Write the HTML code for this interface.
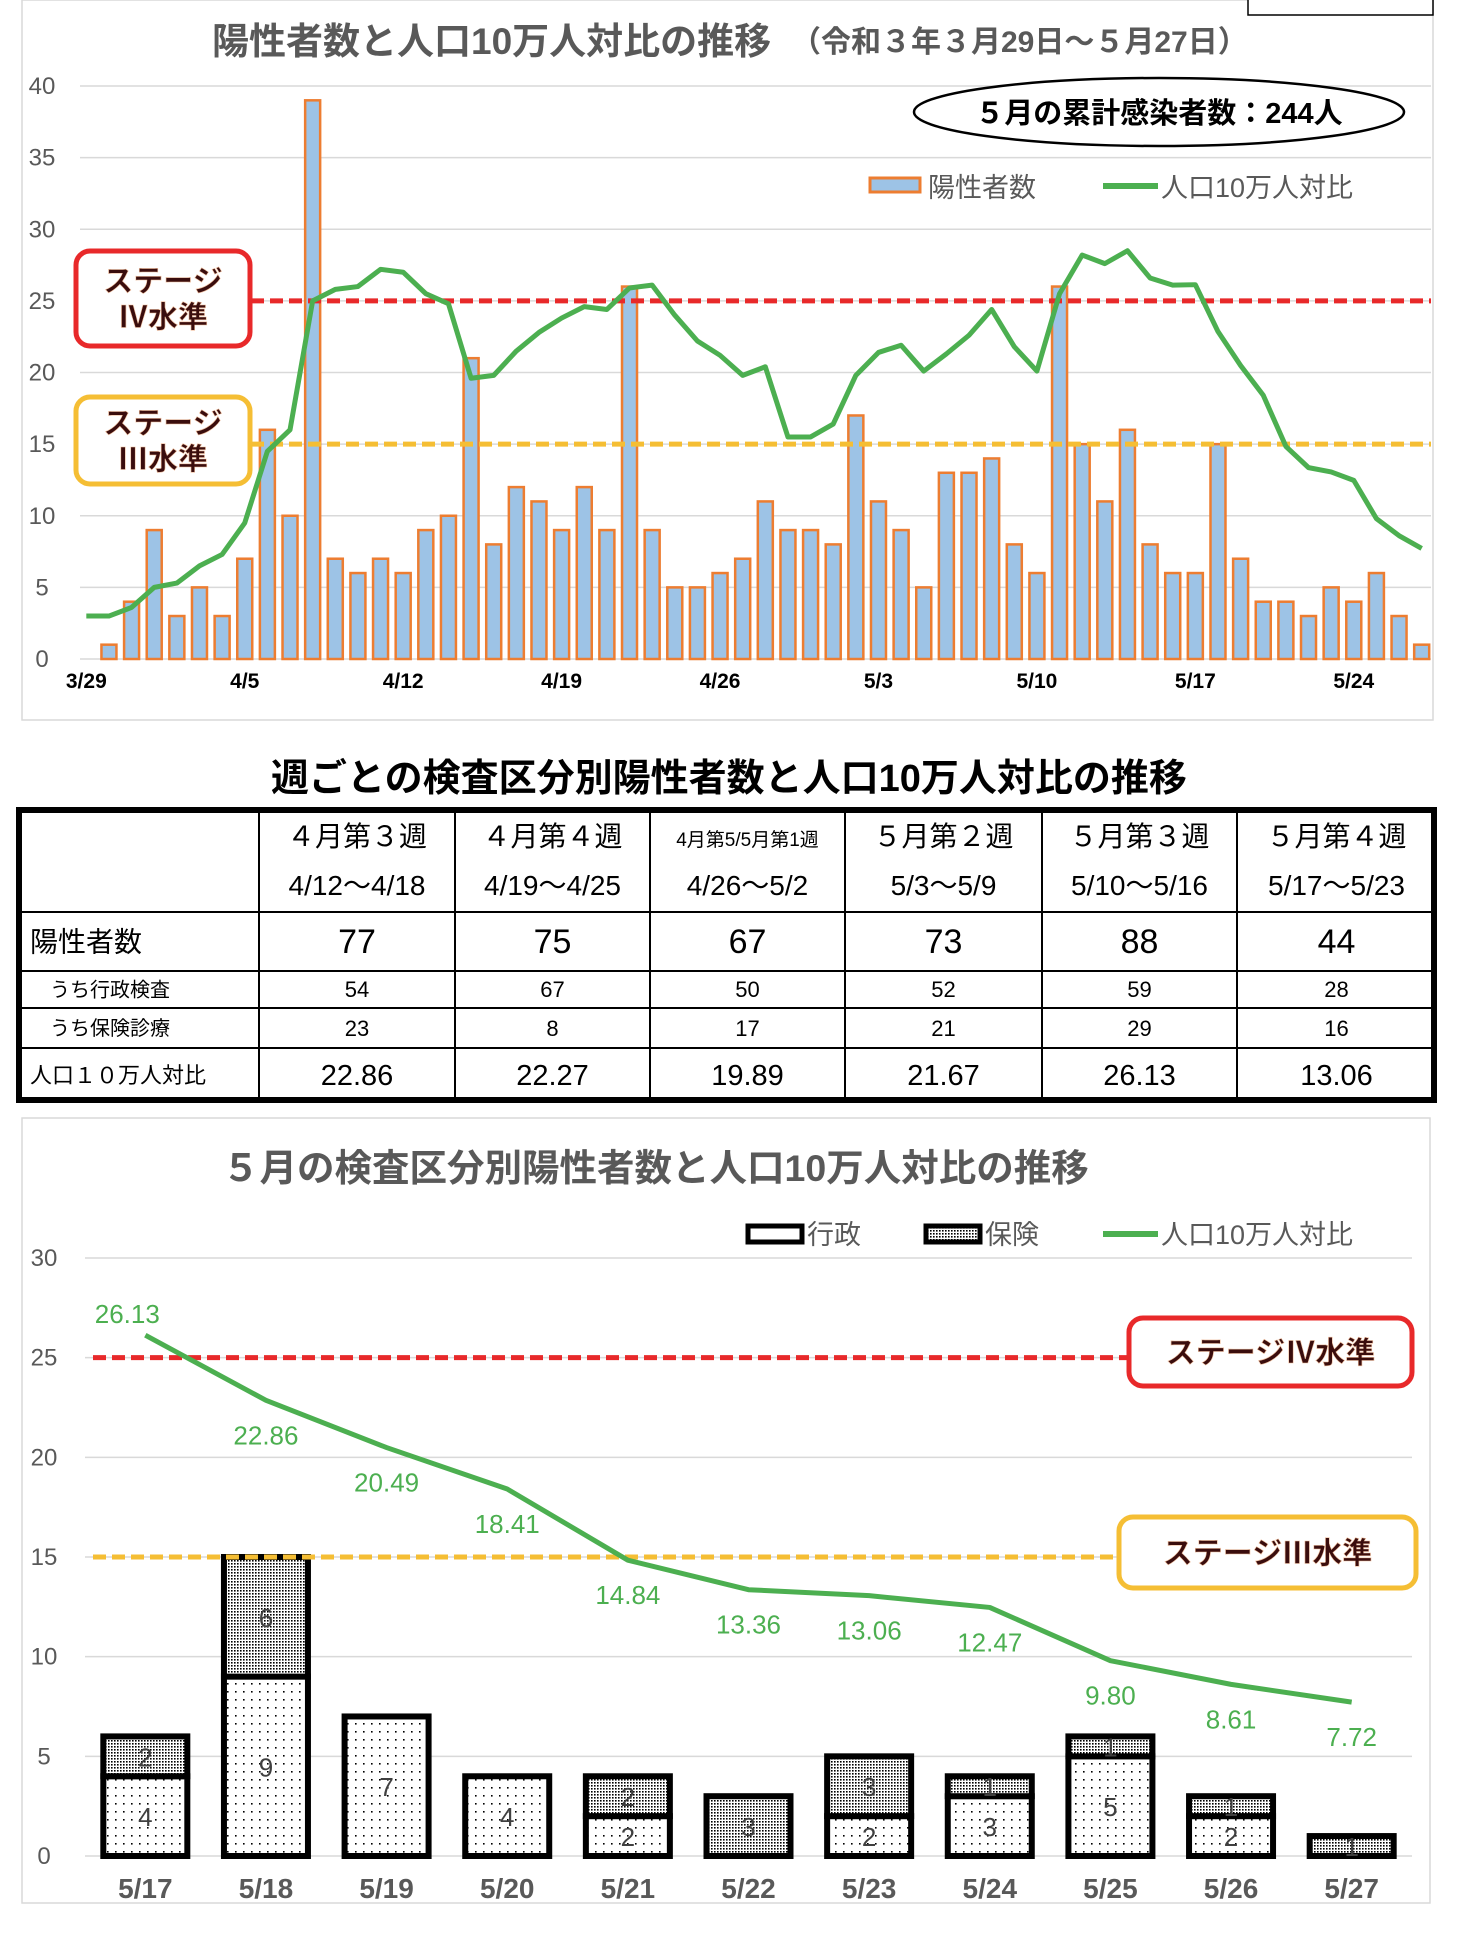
<!DOCTYPE html>
<html><head><meta charset="utf-8">
<style>
body{margin:0;background:#fff;width:1458px;height:1932px;overflow:hidden;font-family:"Liberation Sans","Noto Sans CJK JP",sans-serif;}
svg text{font-family:"Liberation Sans","Noto Sans CJK JP",sans-serif;}
</style></head>
<body>
<svg width="1458" height="1932" xmlns="http://www.w3.org/2000/svg">
<defs>
<pattern id="sparse" width="8" height="8" patternUnits="userSpaceOnUse"><rect width="8" height="8" fill="#fff"/><rect x="3" y="3" width="1.6" height="1.6" fill="#000"/></pattern>
<pattern id="dense" width="3" height="3" patternUnits="userSpaceOnUse"><rect width="3" height="3" fill="#fff"/><rect width="1.6" height="1.6" fill="#000"/></pattern>
</defs>
<g id="c1"></g>
<g id="tbl"></g>
<g id="c3"></g>
</svg>
<script>
const days=["3/29","3/30","3/31","4/1","4/2","4/3","4/4","4/5","4/6","4/7","4/8","4/9","4/10","4/11","4/12","4/13","4/14","4/15","4/16","4/17","4/18","4/19","4/20","4/21","4/22","4/23","4/24","4/25","4/26","4/27","4/28","4/29","4/30","5/1","5/2","5/3","5/4","5/5","5/6","5/7","5/8","5/9","5/10","5/11","5/12","5/13","5/14","5/15","5/16","5/17","5/18","5/19","5/20","5/21","5/22","5/23","5/24","5/25","5/26","5/27"];
const positives=[0,1,4,9,3,5,3,7,16,10,39,7,6,7,6,9,10,21,8,12,11,9,12,9,26,9,5,5,6,7,11,9,9,8,17,11,9,5,13,13,14,8,6,26,15,11,16,8,6,6,15,7,4,4,3,5,4,6,3,1];
const ratio=[3,3,3.6,5,5.3,6.5,7.3,9.5,14.5,16,25,25.8,26,27.2,27,25.5,24.8,19.6,19.8,21.5,22.8,23.8,24.6,24.4,25.9,26.1,24,22.2,21.2,19.8,20.4,15.5,15.5,16.4,19.8,21.4,21.9,20.1,21.3,22.6,24.4,21.8,20.1,25.5,28.2,27.6,28.5,26.6,26.1,26.13,22.86,20.49,18.41,14.84,13.36,13.06,12.47,9.80,8.61,7.72];
const xLabels1=["3/29","4/5","4/12","4/19","4/26","5/3","5/10","5/17","5/24"];
const yTicks1=[0,5,10,15,20,25,30,35,40];

const mayDays=["5/17","5/18","5/19","5/20","5/21","5/22","5/23","5/24","5/25","5/26","5/27"];
const gov=[4,9,7,4,2,0,2,3,5,2,0];
const ins=[2,6,0,0,2,3,3,1,1,1,1];
const mayRatio=[26.13,22.86,20.49,18.41,14.84,13.36,13.06,12.47,9.80,8.61,7.72];
const yTicks3=[0,5,10,15,20,25,30];

const weeks=["４月第３週","４月第４週","4月第5/5月第1週","５月第２週","５月第３週","５月第４週"];
const ranges=["4/12～4/18","4/19～4/25","4/26～5/2","5/3～5/9","5/10～5/16","5/17～5/23"];
const wkPos=[77,75,67,73,88,44];
const wkGov=[54,67,50,52,59,28];
const wkIns=[23,8,17,21,29,16];
const wkRatio=["22.86","22.27","19.89","21.67","26.13","13.06"];

const NS="http://www.w3.org/2000/svg";
function mk(p,tag,at,txt){const e=document.createElementNS(NS,tag);for(const k in at)e.setAttribute(k,at[k]);if(txt!==undefined)e.textContent=txt;p.appendChild(e);return e;}

// ---------- chart 1 ----------
const c1=document.getElementById('c1');
const X0=75,SL=(1433-75)/60;
const x1=i=>X0+SL*(i+0.5);
const y1=v=>659-v*(573/40);
let e=mk(c1,'rect',{x:22,y:0,width:1411,height:720,fill:'#fff',stroke:'#d9d9d9','stroke-width':1.5});

e=mk(c1,'rect',{x:1248,y:-2,width:185,height:17,fill:'#fff',stroke:'#000','stroke-width':1.5});

e=mk(c1,'text',{x:212,y:54,'font-size':37,'font-weight':'bold',fill:'#595959'},'陽性者数と人口10万人対比の推移');

e=mk(c1,'text',{x:791,y:52,'font-size':30,'font-weight':'bold',fill:'#595959'},'（令和３年３月29日～５月27日）');

yTicks1.forEach(v=>{
 const g=mk(c1,'line',{x1:80,x2:1431,y1:y1(v),y2:y1(v),stroke:'#d9d9d9','stroke-width':1.5});
 
 const t=mk(c1,'text',{x:42,y:y1(v)+8,'font-size':24,fill:'#595959','text-anchor':'middle'},String(v));
 
});
positives.forEach((v,i)=>{
 if(v<=0)return;
 const r=mk(c1,'rect',{x:x1(i)-7.5,y:y1(v),width:15,height:y1(0)-y1(v),fill:'#9dc3e6',stroke:'#ed7d31','stroke-width':2.5});
 
});
e=mk(c1,'line',{x1:251,x2:1431,y1:y1(25),y2:y1(25),stroke:'#e8292a','stroke-width':5,'stroke-dasharray':'13 6'});

e=mk(c1,'line',{x1:251,x2:1431,y1:y1(15),y2:y1(15),stroke:'#f5be34','stroke-width':5,'stroke-dasharray':'13 6'});

e=mk(c1,'polyline',{points:ratio.map((v,i)=>x1(i)+','+y1(v)).join(' '),fill:'none',stroke:'#4caf50','stroke-width':5,'stroke-linejoin':'round'});

xLabels1.forEach(l=>{
 const i=days.indexOf(l);
 const t=mk(c1,'text',{x:x1(i),y:688,'font-size':21,'font-weight':'bold',fill:'#000','text-anchor':'middle'},l);
 
});
function stageBox(p,x,y,w,h,col,lines,fs,name){
 const g=mk(p,'g',{});
 mk(g,'rect',{x:x,y:y,width:w,height:h,rx:14,fill:'#fff',stroke:col,'stroke-width':5});
 lines.forEach((l,k)=>{mk(g,'text',{x:x+w/2,y:y+h/2+(k-(lines.length-1)/2)*36+11,'font-size':fs,'font-weight':'bold',fill:'#3a0d0d','text-anchor':'middle',stroke:'#f0c0a0','stroke-width':0.6},l);});
}
stageBox(c1,76,251,174,95,'#e8292a',['ステージ','Ⅳ水準'],30,'stage4-box');
stageBox(c1,76,397,174,87,'#f5be34',['ステージ','Ⅲ水準'],30,'stage3-box');
e=mk(c1,'ellipse',{cx:1159,cy:112,rx:245,ry:34,fill:'#fff',stroke:'#000','stroke-width':2.5});

e=mk(c1,'text',{x:1159,y:123,'font-size':29,'font-weight':'bold',fill:'#000','text-anchor':'middle'},'５月の累計感染者数：244人');

e=mk(c1,'rect',{x:870,y:178,width:50,height:14,fill:'#9dc3e6',stroke:'#ed7d31','stroke-width':3});

e=mk(c1,'text',{x:928,y:197,'font-size':27,fill:'#595959'},'陽性者数');

e=mk(c1,'line',{x1:1103,x2:1158,y1:186,y2:186,stroke:'#4caf50','stroke-width':6});

e=mk(c1,'text',{x:1161,y:197,'font-size':27,fill:'#595959'},'人口10万人対比');


// ---------- table ----------
const tb=document.getElementById('tbl');
e=mk(tb,'text',{x:729,y:791,'font-size':38,'font-weight':'bold',fill:'#000','text-anchor':'middle'},'週ごとの検査区分別陽性者数と人口10万人対比の推移');

const cols=[17,259,455,650,845,1042,1237,1436];
const rows=[808,912,971,1008,1048,1102];
rows.slice(1,-1).forEach(r=>{const l=mk(tb,'line',{x1:17,x2:1436,y1:r,y2:r,stroke:'#000','stroke-width':2});});
cols.slice(1,-1).forEach(c=>{const l=mk(tb,'line',{x1:c,x2:c,y1:808,y2:1102,stroke:'#000','stroke-width':2});});
e=mk(tb,'rect',{x:19,y:810,width:1415,height:290,fill:'none',stroke:'#000','stroke-width':6});

const rowLabels=[['陽性者数',28,'start',30],['　うち行政検査',20,'start',30],['　うち保険診療',20,'start',30],['人口１０万人対比',22,'start',30]];
rowLabels.forEach((rl,k)=>{const t=mk(tb,'text',{x:rl[3],y:(rows[k+1]+rows[k+2])/2+rl[1]*0.36,'font-size':rl[1],fill:'#000'},rl[0]);});
weeks.forEach((w,i)=>{
 const cx=(cols[i+1]+cols[i+2])/2;
 let t=mk(tb,'text',{x:cx,y:846,'font-size':i==2?19:28,fill:'#000','text-anchor':'middle'},w);
 t=mk(tb,'text',{x:cx,y:895,'font-size':28,fill:'#000','text-anchor':'middle'},ranges[i]);
 t=mk(tb,'text',{x:cx,y:953,'font-size':34,fill:'#000','text-anchor':'middle'},String(wkPos[i]));
 t=mk(tb,'text',{x:cx,y:997,'font-size':22,fill:'#000','text-anchor':'middle'},String(wkGov[i]));
 t=mk(tb,'text',{x:cx,y:1036,'font-size':22,fill:'#000','text-anchor':'middle'},String(wkIns[i]));
 t=mk(tb,'text',{x:cx,y:1085,'font-size':29,fill:'#000','text-anchor':'middle'},wkRatio[i]);
});

// ---------- chart 3 ----------
const c3=document.getElementById('c3');
const X3=85,SL3=(1412-85)/11;
const x3=i=>X3+SL3*(i+0.5);
const y3=v=>1856-v*(598/30);
e=mk(c3,'rect',{x:22,y:1118,width:1408,height:785,fill:'#fff',stroke:'#d9d9d9','stroke-width':1.5});

e=mk(c3,'text',{x:222,y:1181,'font-size':37.5,'font-weight':'bold',fill:'#595959'},'５月の検査区分別陽性者数と人口10万人対比の推移');

yTicks3.forEach(v=>{
 const g=mk(c3,'line',{x1:85,x2:1412,y1:y3(v),y2:y3(v),stroke:'#d9d9d9','stroke-width':1.5});
 
 const t=mk(c3,'text',{x:44,y:y3(v)+8,'font-size':24,fill:'#595959','text-anchor':'middle'},String(v));
 
});
mayDays.forEach((d,i)=>{
 const bx=x3(i)-42;
 if(gov[i]>0){
  const r=mk(c3,'rect',{x:bx,y:y3(gov[i]),width:84,height:y3(0)-y3(gov[i]),fill:'url(#sparse)',stroke:'#000','stroke-width':6});
  
  const t=mk(c3,'text',{x:x3(i),y:(y3(0)+y3(gov[i]))/2+10,'font-size':26,fill:'#404040','text-anchor':'middle'},String(gov[i]));
  
 }
 if(ins[i]>0){
  const r=mk(c3,'rect',{x:bx,y:y3(gov[i]+ins[i]),width:84,height:y3(gov[i])-y3(gov[i]+ins[i]),fill:'url(#dense)',stroke:'#000','stroke-width':6});
  
  const t=mk(c3,'text',{x:x3(i),y:(y3(gov[i])+y3(gov[i]+ins[i]))/2+10,'font-size':26,fill:'#404040','text-anchor':'middle'},String(ins[i]));
  
 }
 const t=mk(c3,'text',{x:x3(i),y:1898,'font-size':28,'font-weight':'bold',fill:'#595959','text-anchor':'middle'},d);
 
});
e=mk(c3,'line',{x1:93,x2:1128,y1:y3(25),y2:y3(25),stroke:'#e8292a','stroke-width':5,'stroke-dasharray':'13 6'});

e=mk(c3,'line',{x1:93,x2:1118,y1:y3(15),y2:y3(15),stroke:'#f5be34','stroke-width':5,'stroke-dasharray':'13 6'});

e=mk(c3,'polyline',{points:mayRatio.map((v,i)=>x3(i)+','+y3(v)).join(' '),fill:'none',stroke:'#4caf50','stroke-width':5,'stroke-linejoin':'round'});

mayRatio.forEach((v,i)=>{
 const t=mk(c3,'text',{x:x3(i)-(i==0?18:0),y:i==0?y3(v)-12:y3(v)+44,'font-size':26,fill:'#4caf50','text-anchor':'middle'},v.toFixed(2));
 
});
stageBox(c3,1129,1318,283,68,'#e8292a',['ステージⅣ水準'],30,'stage4-box');
stageBox(c3,1119,1517,297,71,'#f5be34',['ステージⅢ水準'],30,'stage3-box');
e=mk(c3,'rect',{x:748,y:1226,width:54,height:16,fill:'#fff',stroke:'#000','stroke-width':5});

e=mk(c3,'text',{x:807,y:1244,'font-size':27,fill:'#595959'},'行政');

e=mk(c3,'rect',{x:926,y:1226,width:54,height:16,fill:'url(#dense)',stroke:'#000','stroke-width':5});

e=mk(c3,'text',{x:985,y:1244,'font-size':27,fill:'#595959'},'保険');

e=mk(c3,'line',{x1:1103,x2:1158,y1:1234,y2:1234,stroke:'#4caf50','stroke-width':6});

e=mk(c3,'text',{x:1161,y:1244,'font-size':27,fill:'#595959'},'人口10万人対比');

</script>
</body></html>
